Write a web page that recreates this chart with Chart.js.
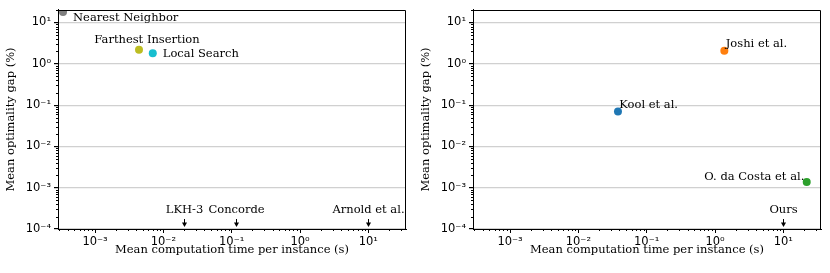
<!DOCTYPE html>
<html>
<head>
<meta charset="utf-8">
<script src="https://cdn.jsdelivr.net/npm/chart.js@4.4.1/dist/chart.umd.min.js"></script>
<style>
  body { margin: 0; background: #fff; }
  .panel { position: absolute; top: 0; width: 415px; height: 273px; }
</style>
</head>
<body>
<div class="panel" style="left:0"><canvas id="graficoIzq" width="415" height="273"></canvas></div>
<div class="panel" style="left:415px"><canvas id="graficoDer" width="415" height="273"></canvas></div>
<script>
// left panel: classic heuristics
var heurNames = ['Nearest Neighbor', 'Farthest Insertion', 'Local Search'];
var heurTime = [3.4e-4, 4.4e-3, 7.0e-3];
var heurGap = [18, 2.2, 1.8];
var heurColors = ['#7f7f7f', '#bcbd22', '#17becf'];
// solvers with ~0 gap, shown as arrows on the x axis
var exactNames = ['LKH-3', 'Concorde', 'Arnold et al.'];
var exactTime = [0.02, 0.117, 10];

// right panel: learned methods
var learnedNames = ['Kool et al.', 'Joshi et al.', 'O. da Costa et al.'];
var learnedTime = [0.038, 1.37, 22];
var learnedGap = [0.07, 2.06, 0.00138];
var learnedColors = ['#1f77b4', '#ff7f0e', '#2ca02c'];
var oursNames = ['Ours'];
var oursTime = [10];

// axes
var xMin = 2.87e-4, xMax = 35.6;
var yMin = 1e-4, yMax = 20.2;
var xTicks = [1e-3, 1e-2, 1e-1, 1, 10];
var xTickLabels = ['10⁻³', '10⁻²', '10⁻¹', '10⁰', '10¹'];
var yTicks = [1e-4, 1e-3, 1e-2, 1e-1, 1, 10];
var yTickLabels = ['10⁻⁴', '10⁻³', '10⁻²', '10⁻¹', '10⁰', '10¹'];

// label placement (pixels relative to the point, baseline)
var heurOffsets = [{dx: 10, dy: 9, align: 'left'}, {dx: 8, dy: -6.3, align: 'center'}, {dx: 10, dy: 3.3, align: 'left'}];
var learnedOffsets = [{dx: 1.3, dy: -3.4, align: 'left'}, {dx: 1.4, dy: -3.6, align: 'left'}, {dx: -2.4, dy: -2.4, align: 'right'}];

var fuenteTexto = '11.5px "DejaVu Serif"';

function ticksLog(min, max) {
   var lista = [];
   for (var k = Math.floor(Math.log10(min)); k <= Math.ceil(Math.log10(max)); k++) {
      for (var m = 1; m <= 9; m++) {
         var v = Number((m * Math.pow(10, k)).toPrecision(10));
         if (v >= min * 0.999999 && v <= max) {
            lista.push({value: v, major: m === 1});
         }
      }
   }
   return lista;
}

function etiqueta(valores, textos) {
   return function (value) {
      for (var i = 0; i < valores.length; i++) {
         if (Math.abs(Math.log10(value) - Math.log10(valores[i])) < 1e-6) return textos[i];
      }
      return '';
   };
}

var pluginNotas = {
   id: 'notas',
   afterDraw: function (chart, args, opts) {
      var ctx = chart.ctx, a = chart.chartArea, x = chart.scales.x, y = chart.scales.y;
      ctx.save();
      ctx.strokeStyle = '#000';
      ctx.lineWidth = 1;
      // frame top and right
      var t = Math.round(a.top) + 0.5, r = Math.round(a.right) - 0.5;
      ctx.beginPath();
      ctx.moveTo(Math.round(a.left), t); ctx.lineTo(r, t);
      ctx.moveTo(r, t); ctx.lineTo(r, Math.round(a.bottom));
      ctx.stroke();
      // minor ticks
      ctx.beginPath();
      x.ticks.forEach(function (tk) {
         if (tk.major) return;
         var px = Math.round(x.getPixelForValue(tk.value)) + 0.5;
         ctx.moveTo(px, a.bottom); ctx.lineTo(px, a.bottom + 2);
      });
      y.ticks.forEach(function (tk) {
         if (tk.major) return;
         var py = Math.round(y.getPixelForValue(tk.value)) + 0.5;
         ctx.moveTo(a.left, py); ctx.lineTo(a.left - 2, py);
      });
      ctx.stroke();
      // point labels
      ctx.fillStyle = '#000';
      ctx.font = fuenteTexto;
      ctx.textBaseline = 'alphabetic';
      opts.etiquetas.forEach(function (e) {
         ctx.textAlign = e.align;
         ctx.fillText(e.text, x.getPixelForValue(e.x) + e.dx, y.getPixelForValue(e.y) + e.dy);
      });
      // arrows at the bottom
      ctx.textAlign = 'center';
      opts.flechas.forEach(function (f) {
         var px = Math.round(x.getPixelForValue(f.x)) + 0.5;
         var yb = a.bottom;
         ctx.fillText(f.text, px, yb - 16);
         ctx.beginPath();
         ctx.moveTo(px, yb - 10); ctx.lineTo(px, yb - 4);
         ctx.stroke();
         ctx.beginPath();
         ctx.moveTo(px - 2.5, yb - 6.5);
         ctx.lineTo(px + 2.5, yb - 6.5);
         ctx.lineTo(px, yb - 2);
         ctx.closePath();
         ctx.fill();
      });
      ctx.restore();
   }
};

function crearGrafico(id, nombres, tiempos, gaps, colores, offsets, flechaNombres, flechaTiempos) {
   var puntos = tiempos.map(function (t, i) { return {x: t, y: gaps[i]}; });
   var etiquetas = nombres.map(function (n, i) {
      return {text: n, x: tiempos[i], y: gaps[i], dx: offsets[i].dx, dy: offsets[i].dy, align: offsets[i].align};
   });
   var flechas = flechaNombres.map(function (n, i) { return {text: n, x: flechaTiempos[i]}; });

   return new Chart(document.getElementById(id).getContext('2d'), {
      type: 'scatter',
      data: {
         datasets: [{
            data: puntos,
            pointBackgroundColor: colores,
            pointBorderColor: colores,
            pointRadius: 4,
            pointBorderWidth: 0,
            clip: 0
         }]
      },
      options: {
         responsive: false,
         animation: false,
         devicePixelRatio: 1,
         layout: {padding: {top: 8, right: 9, left: 0, bottom: 0}},
         scales: {
            x: {
               type: 'logarithmic',
               min: xMin,
               max: xMax,
               afterBuildTicks: function (s) { s.ticks = ticksLog(xMin, xMax); },
               afterFit: function (s) { s.height = 44; },
               grid: {
                  drawOnChartArea: false,
                  tickLength: 4,
                  tickColor: function (c) { return c.tick && c.tick.major ? '#000' : 'rgba(0,0,0,0)'; }
               },
               border: {color: '#000', width: 1},
               ticks: {
                  autoSkip: false,
                  maxRotation: 0,
                  padding: 2,
                  color: '#000',
                  font: {family: 'DejaVu Sans', size: 11.5},
                  callback: etiqueta(xTicks, xTickLabels)
               },
               title: {
                  display: true,
                  text: 'Mean computation time per instance (s)',
                  color: '#000',
                  font: {family: 'DejaVu Serif', size: 11.5},
                  padding: {top: 0, bottom: 16}
               }
            },
            y: {
               type: 'logarithmic',
               min: yMin,
               max: yMax,
               afterBuildTicks: function (s) { s.ticks = ticksLog(yMin, yMax); },
               afterFit: function (s) { s.width = 58; },
               grid: {
                  tickLength: 4,
                  lineWidth: 1.2,
                  color: function (c) { return c.tick && c.tick.major ? '#d0d0d0' : 'rgba(0,0,0,0)'; },
                  tickColor: function (c) { return c.tick && c.tick.major ? '#000' : 'rgba(0,0,0,0)'; }
               },
               border: {color: '#000', width: 1},
               ticks: {
                  autoSkip: false,
                  padding: 3,
                  color: '#000',
                  font: {family: 'DejaVu Sans', size: 11.5},
                  callback: etiqueta(yTicks, yTickLabels)
               },
               title: {
                  display: true,
                  text: 'Mean optimality gap (%)',
                  color: '#000',
                  font: {family: 'DejaVu Serif', size: 11.5},
                  padding: {top: 4, bottom: 0}
               }
            }
         },
         plugins: {
            legend: {display: false},
            tooltip: {enabled: false},
            notas: {etiquetas: etiquetas, flechas: flechas}
         }
      },
      plugins: [pluginNotas]
   });
}

crearGrafico('graficoIzq', heurNames, heurTime, heurGap, heurColors, heurOffsets, exactNames, exactTime);
crearGrafico('graficoDer', learnedNames, learnedTime, learnedGap, learnedColors, learnedOffsets, oursNames, oursTime);
</script>
</body>
</html>
